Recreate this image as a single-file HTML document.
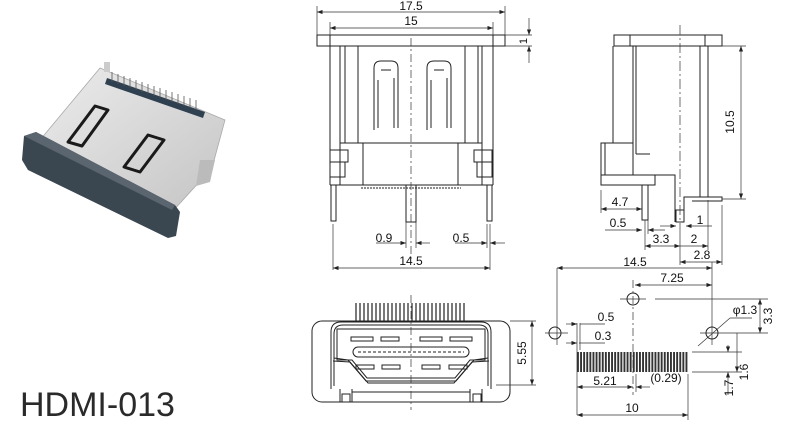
<!DOCTYPE html>
<html><head><meta charset="utf-8"><style>
html,body{margin:0;padding:0;background:#fff;}
svg{display:block;}
text{font-family:"Liberation Sans",Arial,sans-serif;fill:#111;}
</style></head><body>
<svg width="800" height="423" viewBox="0 0 800 423" xmlns="http://www.w3.org/2000/svg">
<defs>
<marker id="a" markerWidth="8" markerHeight="6" refX="8" refY="3" orient="auto-start-reverse"><path d="M0,0 L8,3 L0,6 z" fill="#222"/></marker>
<linearGradient id="sil" x1="0" y1="0" x2="1" y2="1"><stop offset="0" stop-color="#ececec"/><stop offset="1" stop-color="#c4c4c4"/></linearGradient>
</defs>

<!-- PHOTO -->
<polygon points="100,68 225,120 212,168 172,212 40,140" fill="url(#sil)" stroke="#aaa" stroke-width="0.8"/>
<polygon points="104,62 110,62 110,72 104,72" fill="#ccc"/>
<polygon points="107,78 205,112 203,118 105,84" fill="#2f4150"/>
<g stroke="#555" stroke-width="0.8">
<line x1="112" y1="72" x2="112" y2="82"/><line x1="118" y1="74" x2="118" y2="84"/><line x1="124" y1="76" x2="124" y2="86"/><line x1="130" y1="78" x2="130" y2="88"/><line x1="136" y1="80" x2="136" y2="90"/><line x1="142" y1="82" x2="142" y2="92"/><line x1="148" y1="84" x2="148" y2="94"/><line x1="154" y1="86" x2="154" y2="96"/><line x1="160" y1="88" x2="160" y2="98"/><line x1="166" y1="90" x2="166" y2="100"/><line x1="172" y1="92" x2="172" y2="102"/><line x1="178" y1="94" x2="178" y2="104"/><line x1="184" y1="96" x2="184" y2="106"/><line x1="190" y1="98" x2="190" y2="108"/><line x1="196" y1="100" x2="196" y2="110"/>
</g>
<g fill="none" stroke="#1a1a1a" stroke-width="3" stroke-linejoin="round">
<polygon points="95,106 108,110 82,146 68,142"/>
<polygon points="148,135 164,140 140,172 124,167"/>
</g>
<polygon points="200,160 215,160 210,182 196,186" fill="#bbb"/>
<polygon points="24,136 36,132 175,205 180,212 176,236 168,238 28,170 22,160" fill="#3a4650"/>
<polygon points="24,136 36,132 175,205 172,210" fill="#5a6570"/>

<!-- FRONT VIEW -->
<g stroke="#222" stroke-width="1" fill="none">
<rect x="317" y="35" width="188" height="11"/>
<line x1="330" y1="35" x2="330" y2="46"/><line x1="493" y1="35" x2="493" y2="46"/>
<line x1="330" y1="46" x2="330" y2="185"/><line x1="340" y1="46" x2="340" y2="185"/><line x1="345" y1="46" x2="345" y2="143"/><line x1="358" y1="46" x2="358" y2="143"/>
<line x1="465" y1="46" x2="465" y2="143"/><line x1="478" y1="46" x2="478" y2="143"/><line x1="482" y1="46" x2="482" y2="185"/><line x1="493" y1="46" x2="493" y2="185"/>
<path d="M374,130 V68 Q374,61 381,61 H391 Q398,61 398,68 V128 M378,128 V80 M394,128 V78 M381,70 H391"/>
<path d="M427,130 V68 Q427,61 434,61 H444 Q451,61 451,68 V128 M431,128 V80 M447,128 V78 M434,70 H444"/>
<rect x="340" y="143" width="142" height="42"/>
<rect x="363" y="143" width="95" height="42"/>
<rect x="330" y="150" width="18" height="12"/><rect x="474" y="150" width="18" height="12"/>
<rect x="330" y="162" width="15" height="15"/><rect x="477" y="162" width="15" height="15"/>
<line x1="330" y1="185" x2="493" y2="185"/>
<rect x="331" y="185" width="5" height="36"/><rect x="487" y="185" width="5" height="36"/>
<rect x="406" y="185" width="10" height="37"/>
<line x1="361" y1="188" x2="461" y2="188" stroke-dasharray="2,1"/>
</g>
<line x1="411" y1="38" x2="411" y2="262" stroke="#333" stroke-width="0.7" stroke-dasharray="8,3,2,3"/>
<g stroke="#333" stroke-width="0.7" fill="none">
<line x1="317" y1="6" x2="317" y2="35"/><line x1="505" y1="6" x2="505" y2="35"/>
<line x1="330" y1="22" x2="330" y2="35"/><line x1="493" y1="22" x2="493" y2="35"/>
<line x1="317" y1="12" x2="505" y2="12" marker-start="url(#a)" marker-end="url(#a)"/>
<line x1="330" y1="28" x2="493" y2="28" marker-start="url(#a)" marker-end="url(#a)"/>
<line x1="505" y1="35" x2="532" y2="35"/><line x1="505" y1="46" x2="532" y2="46"/>
<line x1="529" y1="18" x2="529" y2="35" marker-end="url(#a)"/><line x1="529" y1="63" x2="529" y2="46" marker-end="url(#a)"/>
<line x1="333" y1="224" x2="333" y2="270"/><line x1="490" y1="224" x2="490" y2="270"/>
<line x1="406" y1="222" x2="406" y2="248"/><line x1="416" y1="222" x2="416" y2="248"/>
<line x1="376" y1="243" x2="406" y2="243" marker-end="url(#a)"/><line x1="430" y1="243" x2="416" y2="243" marker-end="url(#a)"/>
<line x1="487" y1="224" x2="487" y2="248"/>
<line x1="455" y1="243" x2="487" y2="243" marker-end="url(#a)"/><line x1="505" y1="243" x2="490" y2="243" marker-end="url(#a)"/>
<line x1="333" y1="268" x2="490" y2="268" marker-start="url(#a)" marker-end="url(#a)"/>
</g>
<text x="411" y="10" font-size="12" text-anchor="middle">17.5</text>
<text x="411" y="25" font-size="12" text-anchor="middle">15</text>
<text x="527" y="41" font-size="11" text-anchor="middle" transform="rotate(-90 527 41)">1</text>
<text x="384" y="242" font-size="12" text-anchor="middle">0.9</text>
<text x="461" y="242" font-size="12" text-anchor="middle">0.5</text>
<text x="411" y="265" font-size="12" text-anchor="middle">14.5</text>

<!-- SIDE VIEW -->
<g stroke="#222" stroke-width="1" fill="none">
<rect x="614" y="35" width="108" height="11"/>
<line x1="630" y1="35" x2="630" y2="46"/><line x1="705" y1="35" x2="705" y2="46"/>
<line x1="613" y1="46" x2="613" y2="143"/><line x1="633" y1="46" x2="633" y2="154"/><line x1="636" y1="46" x2="636" y2="154"/>
<line x1="636" y1="154" x2="650" y2="154"/>
<line x1="700" y1="46" x2="700" y2="197"/><line x1="708" y1="46" x2="708" y2="197"/>
<rect x="601" y="143" width="32" height="32"/>
<line x1="605" y1="143" x2="605" y2="175"/>
<path d="M601,175 V185 H655 V175 H675 V222"/>
<line x1="601" y1="175" x2="675" y2="175"/>
<rect x="642" y="185" width="6" height="35"/>
<path d="M684,222 V197 H722 V201 H692"/>
<rect x="676" y="210" width="8" height="12"/>
</g>
<line x1="680" y1="25" x2="680" y2="225" stroke="#333" stroke-width="0.7" stroke-dasharray="10,3,2,3"/>
<g stroke="#333" stroke-width="0.7" fill="none">
<line x1="722" y1="46" x2="746" y2="46"/><line x1="722" y1="199" x2="746" y2="199"/>
<line x1="741" y1="46" x2="741" y2="199" marker-start="url(#a)" marker-end="url(#a)"/>
<line x1="601" y1="190" x2="601" y2="213"/>
<line x1="601" y1="209" x2="642" y2="209" marker-start="url(#a)" marker-end="url(#a)"/>
<line x1="645" y1="220" x2="645" y2="250"/><line x1="648" y1="220" x2="648" y2="234"/>
<line x1="605" y1="230" x2="642" y2="230" marker-end="url(#a)"/><line x1="665" y1="230" x2="648" y2="230" marker-end="url(#a)"/>
<line x1="680" y1="225" x2="680" y2="265"/>
<line x1="660" y1="226" x2="676" y2="226" marker-end="url(#a)"/><line x1="712" y1="226" x2="686" y2="226" marker-end="url(#a)"/>
<line x1="645" y1="246" x2="680" y2="246" marker-start="url(#a)" marker-end="url(#a)"/>
<line x1="680" y1="246" x2="708" y2="246" marker-end="url(#a)"/>
<line x1="708" y1="200" x2="708" y2="250"/><line x1="722" y1="205" x2="722" y2="265"/>
<line x1="680" y1="262" x2="722" y2="262" marker-start="url(#a)" marker-end="url(#a)"/>
</g>
<text x="734" y="122" font-size="12" text-anchor="middle" transform="rotate(-90 734 122)">10.5</text>
<text x="620" y="206" font-size="12" text-anchor="middle">4.7</text>
<text x="618" y="227" font-size="12" text-anchor="middle">0.5</text>
<text x="700" y="224" font-size="12" text-anchor="middle">1</text>
<text x="661" y="243" font-size="12" text-anchor="middle">3.3</text>
<text x="694" y="243" font-size="12" text-anchor="middle">2</text>
<text x="702" y="259" font-size="12" text-anchor="middle">2.8</text>

<!-- BOTTOM FRONT VIEW -->
<g stroke="#222" stroke-width="1" fill="none">
<g stroke-width="1.2">
<line x1="356" y1="303" x2="356" y2="322"/><line x1="360" y1="303" x2="360" y2="322"/><line x1="364" y1="303" x2="364" y2="322"/><line x1="368" y1="303" x2="368" y2="322"/><line x1="372" y1="303" x2="372" y2="322"/><line x1="376" y1="303" x2="376" y2="322"/><line x1="380" y1="303" x2="380" y2="322"/><line x1="384" y1="303" x2="384" y2="322"/><line x1="388" y1="303" x2="388" y2="322"/><line x1="392" y1="303" x2="392" y2="322"/><line x1="396" y1="303" x2="396" y2="322"/><line x1="400" y1="303" x2="400" y2="322"/><line x1="404" y1="303" x2="404" y2="322"/><line x1="408" y1="303" x2="408" y2="322"/><line x1="412" y1="303" x2="412" y2="322"/><line x1="416" y1="303" x2="416" y2="322"/><line x1="420" y1="303" x2="420" y2="322"/><line x1="424" y1="303" x2="424" y2="322"/><line x1="428" y1="303" x2="428" y2="322"/><line x1="432" y1="303" x2="432" y2="322"/><line x1="436" y1="303" x2="436" y2="322"/><line x1="440" y1="303" x2="440" y2="322"/><line x1="444" y1="303" x2="444" y2="322"/><line x1="448" y1="303" x2="448" y2="322"/><line x1="452" y1="303" x2="452" y2="322"/><line x1="456" y1="303" x2="456" y2="322"/><line x1="460" y1="303" x2="460" y2="322"/><line x1="464" y1="303" x2="464" y2="322"/>
</g>
<rect x="312" y="321" width="198" height="81" rx="10"/>
<path d="M331,389 V332 Q331,322 341,322 H481 Q491,322 491,332 V389"/>
<path d="M334,386 V334 Q334,325 343,325 H479 Q488,325 488,334 V386"/>
<path d="M337,329 H485 V360 L470,360 L455,378 H367 L352,360 L337,360 z"/>
<path d="M333,361 L350,362 L368,383 H454 L472,362 L489,361"/>
<path d="M334,358 L348,360 L366,381 H456 L474,360 L488,358"/>
<rect x="351" y="337" width="22" height="4"/><rect x="381" y="337" width="18" height="4"/><rect x="420" y="337" width="22" height="4"/><rect x="450" y="337" width="22" height="4"/>
<rect x="356" y="365" width="18" height="4"/><rect x="382" y="365" width="18" height="4"/><rect x="422" y="365" width="18" height="4"/><rect x="449" y="365" width="18" height="4"/>
<rect x="353" y="347" width="116" height="10" rx="5"/>
<line x1="358" y1="352" x2="464" y2="352" stroke-dasharray="3,2"/>
<path d="M340,389 V402 M352,389 V402 M470,389 V402 M482,389 V402 M352,392 H470"/>
<rect x="342" y="394" width="8" height="8"/><rect x="473" y="394" width="8" height="8"/>
</g>
<line x1="411" y1="295" x2="411" y2="410" stroke="#333" stroke-width="0.7" stroke-dasharray="8,3,2,3"/>
<g stroke="#333" stroke-width="0.7" fill="none">
<line x1="510" y1="321" x2="536" y2="321"/><line x1="496" y1="385" x2="536" y2="385"/>
<line x1="532" y1="321" x2="532" y2="385" marker-start="url(#a)" marker-end="url(#a)"/>
</g>
<text x="526" y="353" font-size="12" text-anchor="middle" transform="rotate(-90 526 353)">5.55</text>

<!-- FOOTPRINT -->
<g stroke="#333" stroke-width="0.7" fill="none">
<line x1="557" y1="268" x2="557" y2="345"/><line x1="712" y1="262" x2="712" y2="345"/>
<line x1="557" y1="268" x2="712" y2="268" marker-start="url(#a)" marker-end="url(#a)"/>
<line x1="635" y1="285" x2="712" y2="285" marker-start="url(#a)" marker-end="url(#a)"/>
<line x1="633" y1="280" x2="633" y2="395" stroke-dasharray="8,3,2,3"/>
<line x1="620" y1="299" x2="646" y2="299"/><line x1="655" y1="299" x2="768" y2="299"/>
<line x1="545" y1="333" x2="568" y2="333"/><line x1="700" y1="333" x2="768" y2="333"/>
<line x1="760" y1="299" x2="760" y2="333" marker-start="url(#a)" marker-end="url(#a)"/>
<line x1="698" y1="346" x2="730" y2="318"/><line x1="730" y1="318" x2="752" y2="318"/>
<line x1="577" y1="323" x2="577" y2="415"/><line x1="580" y1="323" x2="580" y2="350"/>
<line x1="566" y1="324" x2="577" y2="324" marker-end="url(#a)"/><line x1="605" y1="324" x2="580" y2="324"/>
<line x1="566" y1="343" x2="577" y2="343" marker-end="url(#a)"/><line x1="605" y1="343" x2="579" y2="343"/>
<line x1="692" y1="352" x2="742" y2="352"/><line x1="692" y1="372" x2="742" y2="372"/>
<line x1="737" y1="333" x2="737" y2="372" marker-end="url(#a)"/>
<line x1="728" y1="345" x2="728" y2="352" marker-end="url(#a)"/><line x1="728" y1="395" x2="728" y2="372" marker-end="url(#a)"/>
<line x1="577" y1="387" x2="633" y2="387" marker-start="url(#a)" marker-end="url(#a)"/>
<line x1="650" y1="387" x2="636" y2="387" marker-end="url(#a)"/><line x1="636" y1="374" x2="636" y2="392"/>
<line x1="688" y1="374" x2="688" y2="420"/>
<line x1="577" y1="415" x2="688" y2="415" marker-start="url(#a)" marker-end="url(#a)"/>
</g>
<g stroke="#222" stroke-width="1" fill="none">
<circle cx="633" cy="299" r="6"/><circle cx="555" cy="333" r="6"/><circle cx="712" cy="333" r="6"/>
</g>
<g fill="#333">
<rect x="577.0" y="352" width="1.9" height="20"/><rect x="580.1" y="352" width="1.9" height="20"/><rect x="583.2" y="352" width="1.9" height="20"/><rect x="586.3" y="352" width="1.9" height="20"/><rect x="589.4" y="352" width="1.9" height="20"/><rect x="592.5" y="352" width="1.9" height="20"/><rect x="595.6" y="352" width="1.9" height="20"/><rect x="598.7" y="352" width="1.9" height="20"/><rect x="601.8" y="352" width="1.9" height="20"/><rect x="604.9" y="352" width="1.9" height="20"/><rect x="608.0" y="352" width="1.9" height="20"/><rect x="611.1" y="352" width="1.9" height="20"/><rect x="614.2" y="352" width="1.9" height="20"/><rect x="617.3" y="352" width="1.9" height="20"/><rect x="620.4" y="352" width="1.9" height="20"/><rect x="623.5" y="352" width="1.9" height="20"/><rect x="626.6" y="352" width="1.9" height="20"/><rect x="629.7" y="352" width="1.9" height="20"/><rect x="632.8" y="352" width="1.9" height="20"/><rect x="635.9" y="352" width="1.9" height="20"/><rect x="639.0" y="352" width="1.9" height="20"/><rect x="642.1" y="352" width="1.9" height="20"/><rect x="645.2" y="352" width="1.9" height="20"/><rect x="648.3" y="352" width="1.9" height="20"/><rect x="651.4" y="352" width="1.9" height="20"/><rect x="654.5" y="352" width="1.9" height="20"/><rect x="657.6" y="352" width="1.9" height="20"/><rect x="660.7" y="352" width="1.9" height="20"/><rect x="663.8" y="352" width="1.9" height="20"/><rect x="666.9" y="352" width="1.9" height="20"/><rect x="670.0" y="352" width="1.9" height="20"/><rect x="673.1" y="352" width="1.9" height="20"/><rect x="676.2" y="352" width="1.9" height="20"/><rect x="679.3" y="352" width="1.9" height="20"/><rect x="682.4" y="352" width="1.9" height="20"/><rect x="685.5" y="352" width="1.9" height="20"/>
</g>
<text x="672" y="282" font-size="12" text-anchor="middle">7.25</text>
<text x="635" y="266" font-size="12" text-anchor="middle">14.5</text>
<text x="745" y="314" font-size="12" text-anchor="middle">φ1.3</text>
<text x="772" y="316" font-size="12" text-anchor="middle" transform="rotate(-90 772 316)">3.3</text>
<text x="606" y="321" font-size="12" text-anchor="middle">0.5</text>
<text x="603" y="340" font-size="12" text-anchor="middle">0.3</text>
<text x="748" y="372" font-size="12" text-anchor="middle" transform="rotate(-90 748 372)">1.6</text>
<text x="733" y="388" font-size="12" text-anchor="middle" transform="rotate(-90 733 388)">1.7</text>
<text x="605" y="385" font-size="12" text-anchor="middle">5.21</text>
<text x="666" y="382" font-size="12" text-anchor="middle">(0.29)</text>
<text x="632" y="412" font-size="12" text-anchor="middle">10</text>

<text x="20" y="416" font-size="34" style="fill:#2a2a2a">HDMI-013</text>
</svg>
</body></html>
